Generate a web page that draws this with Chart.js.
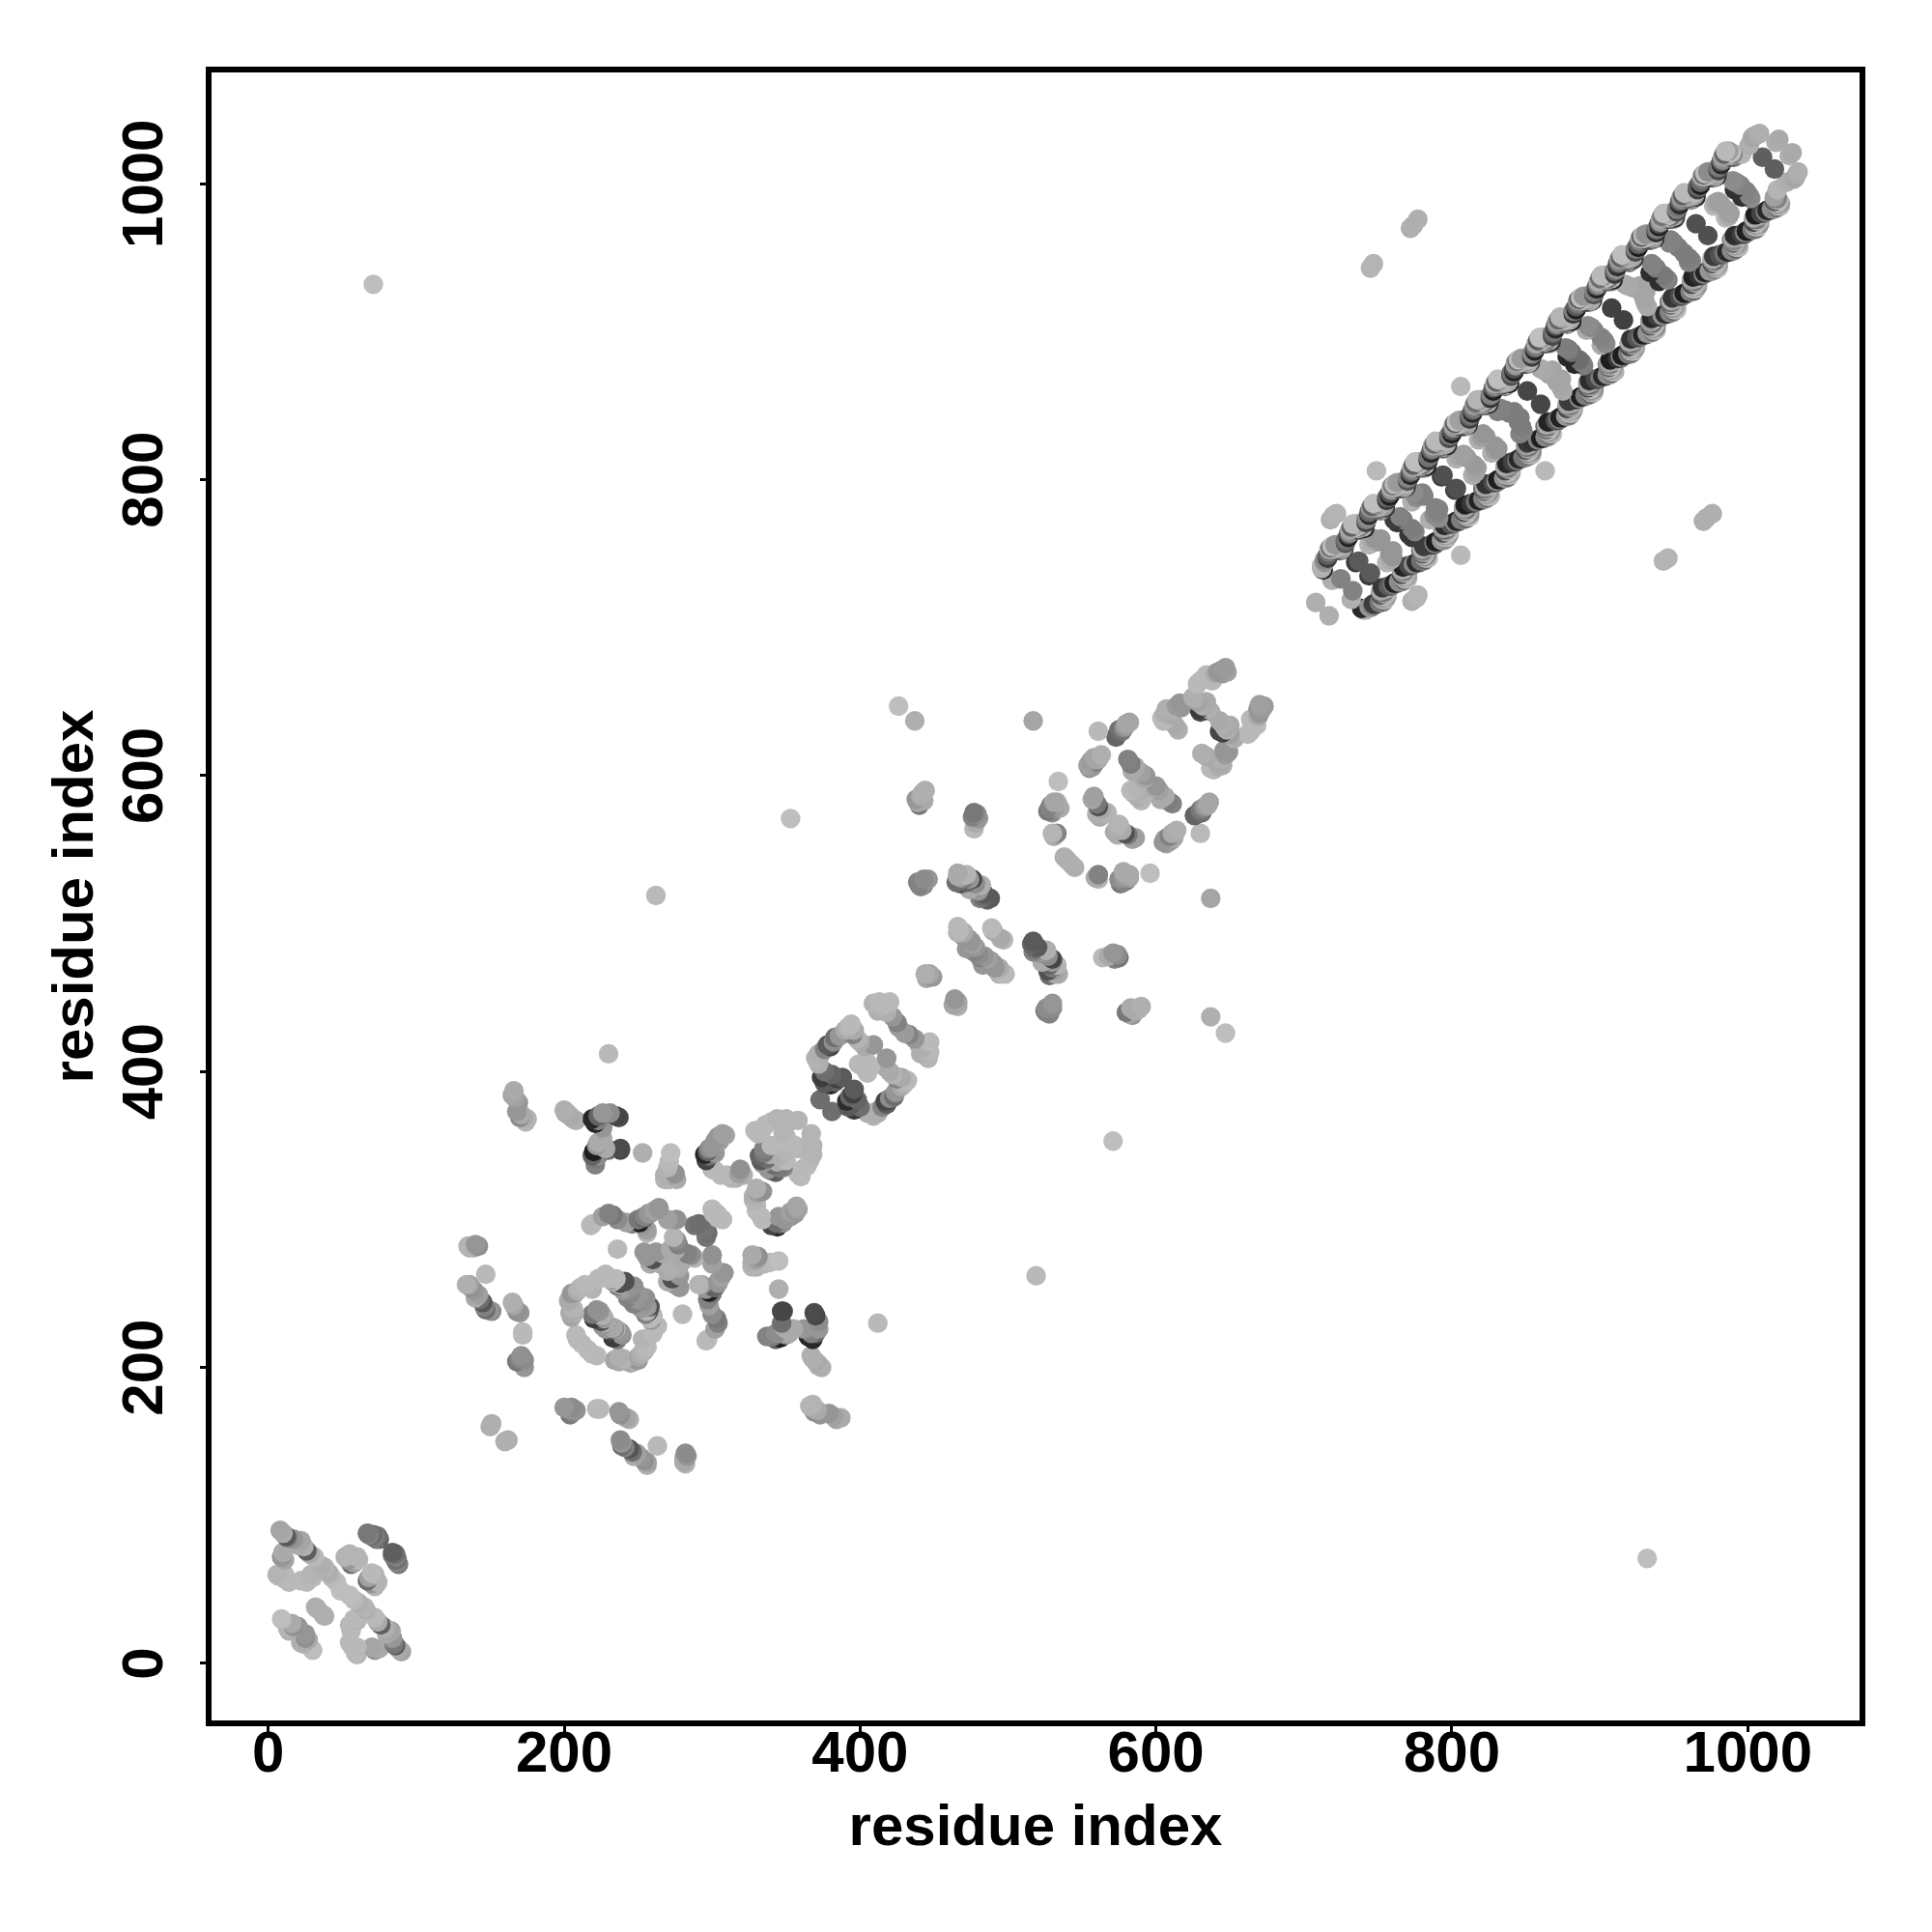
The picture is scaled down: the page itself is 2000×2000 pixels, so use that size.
<!DOCTYPE html>
<html>
<head>
<meta charset="utf-8">
<title>residue contact map</title>
<script src="https://cdn.jsdelivr.net/npm/chart.js@4/dist/chart.umd.js"></script>
<style>
  html, body { margin: 0; padding: 0; background: #fff; }
  canvas { display: block; }
</style>
</head>
<body>
<canvas id="contactChart" width="2000" height="2000"></canvas>
<script>
// Tick labels
const xTicks = [0, 200, 400, 600, 800, 1000];
const yTicks = [0, 200, 400, 600, 800, 1000];
const axisTitle = 'residue index';

// The map is symmetric, so each contact is listed once as (i, j) with i < j
// Two long rails of the big helix bundle
const railI = [
  712,714,716,717,719,721,723,724, 726,728,730,731,733,735,737,738,
  740,742,744,745,747,749,751,752, 754,756,758,759,761,763,765,766,
  768,770,772,773,775,777,779,780, 782,784,786,787,789,791,793,794,
  796,798,800,801,803,805,807,808, 810,812,814,815,817,819,821,822,
  824,826,828,829,831,833,835,836, 838,840,842,843,845,847,849,850,
  852,854,856,857,859,861,863,864, 866,868,870,871,873,875,877,878,
  880,882,884,885,887,889,891,892, 894,896,898,899,901,903,905,906,
  908,910,912,913,915,917,919,920, 922,924,926,927,929,931,933,934,
  936,938,940,941,943,945,947,948, 950,952,954,955,957,959,961,962,
  964,966,968,969,971,973,975,976, 978,980,982,983,985,987,989,990
];
const railJ = [
  740,744,747,751,753,754,754,752, 753,757,761,764,768,768,767,766,
  766,771,776,779,782,781,780,779, 782,786,789,793,795,796,796,794,
  795,799,803,806,810,810,809,808, 808,813,818,821,824,823,822,821,
  824,828,831,835,837,838,838,836, 837,841,845,848,852,852,851,850,
  850,855,860,863,866,865,864,863, 866,870,873,877,879,880,880,878,
  879,883,887,890,894,894,893,892, 892,897,902,905,908,907,906,905,
  908,912,915,919,921,922,922,920, 921,925,929,932,936,936,935,934,
  934,939,944,947,950,949,948,947, 950,954,957,961,963,964,964,962,
  963,967,971,974,978,978,977,976, 976,981,986,989,992,991,990,989,
  992,996,999,1003,1005,1006,1006,1004, 1005,1009,1013,1016,1020,1020,1019,1018
];
const railGrey = [
  175,150,60,120,175,185,165,110, 160,90,35,140,180,190,175,130,
  170,70,45,110,170,190,160,120, 150,60,30,150,185,180,170,105,
  165,85,40,125,175,190,180,135, 155,55,35,130,185,185,160,100,
  170,75,30,145,175,190,170,125, 160,65,40,120,180,185,165,115,
  150,50,30,135,175,190,175,110, 165,80,35,150,185,180,160,120,
  170,60,30,125,175,190,170,105, 155,70,40,140,180,185,175,130,
  160,55,30,120,185,190,165,110, 170,85,35,145,175,180,160,125,
  150,60,45,130,180,190,170,100, 165,75,30,125,185,185,175,120,
  160,50,35,150,175,190,165,115, 170,80,40,135,180,180,160,130,
  155,65,30,120,185,190,170,110, 165,70,40,140,175,185,175,125
];
// Second partner of the same residues
const railUpperJ = [
  742,746,749,753,755,756,756,754, 755,759,763,766,770,770,769,768,
  768,773,778,781,784,783,782,781, 784,788,791,795,797,798,798,796,
  797,801,805,808,812,812,811,810, 810,815,820,823,826,825,824,823,
  826,830,833,837,839,840,840,838, 839,843,847,850,854,854,853,852,
  852,857,862,865,868,867,866,865, 868,872,875,879,881,882,882,880,
  881,885,889,892,896,896,895,894, 894,899,904,907,910,909,908,907,
  910,914,917,921,923,924,924,922, 923,927,931,934,938,938,937,936,
  936,941,946,949,952,951,950,949, 952,956,959,963,965,966,966,964,
  965,969,973,976,980,980,979,978, 978,983,988,991,994,993,992,991,
  994,998,1001,1005,1007,1008,1008,1006, 1007,1011,1015,1018,1022,1022,1021,1020
];
const railUpperGrey = [
  180,135,95,170,190,150,185,120, 175,110,80,165,185,160,180,130,
  185,125,100,150,190,140,175,115, 170,100,85,175,185,155,190,125,
  180,130,90,160,190,145,180,110, 175,115,95,170,185,150,170,135,
  185,120,85,165,190,160,185,120, 170,105,100,155,180,140,175,125,
  180,125,90,175,190,150,185,115, 175,110,80,160,185,155,180,130,
  185,135,95,170,190,145,170,120, 170,100,85,165,180,160,185,110,
  180,120,90,150,190,150,175,125, 175,130,100,175,185,140,190,115,
  185,105,80,160,190,155,180,130, 170,125,95,170,180,145,175,120,
  180,110,85,165,190,160,185,110, 175,135,90,155,185,150,170,125,
  185,100,100,175,190,140,180,120, 170,120,85,160,185,155,190,130
];
// Residues in between
const railMidI = [
  713,715,718,720,722,725, 727,729,732,734,736,739, 741,743,746,748,750,753,
  755,757,760,762,764,767, 769,771,774,776,778,781, 783,785,788,790,792,795,
  797,799,802,804,806,809, 811,813,816,818,820,823, 825,827,830,832,834,837,
  839,841,844,846,848,851, 853,855,858,860,862,865, 867,869,872,874,876,879,
  881,883,886,888,890,893, 895,897,900,902,904,907, 909,911,914,916,918,921,
  923,925,928,930,932,935, 937,939,942,944,946,949, 951,953,956,958,960,963,
  965,967,970,972,974,977, 979,981,984,986,988,991
];
const railMidJ = [
  739,746,754,753,752,752, 753,760,768,767,766,766, 767,774,782,781,780,780,
  781,788,796,795,794,794, 795,802,810,809,808,808, 809,816,824,823,822,822,
  823,830,838,837,836,836, 837,844,852,851,850,850, 851,858,866,865,864,864,
  865,872,880,879,878,878, 879,886,894,893,892,892, 893,900,908,907,906,906,
  907,914,922,921,920,920, 921,928,936,935,934,934, 935,942,950,949,948,948,
  949,956,964,963,962,962, 963,970,978,977,976,976, 977,984,992,991,990,990,
  991,998,1006,1005,1004,1004, 1005,1012,1020,1019,1018,1018
];
const railMidGrey = [
  40,130,110,150,85,170, 55,120,95,160,70,165, 35,140,100,145,90,175,
  60,125,115,155,75,160, 45,135,90,165,80,170, 30,115,105,150,95,165,
  50,145,95,160,70,175, 40,120,110,140,85,160, 55,130,100,155,90,170,
  35,125,115,165,75,165, 60,140,90,145,80,175, 45,115,105,150,95,160,
  30,135,95,160,70,170, 50,120,110,155,85,165, 40,145,100,140,90,175,
  55,125,90,165,75,160, 35,130,115,150,80,170, 60,115,95,160,95,165,
  45,140,105,145,70,175, 30,125,100,155,85,160
];

// Inner rungs, the end cap and the stray contacts around the bundle
const rungI = [
  708,719,725,718,720,722,735,737,744,745,
  747,748,749,752,763,765,772,773,774,774,
  777,778,781,793,794,803,806,808,818,821,
  831,836,842,851,860,864,868,878,879,891,
  894,908,917,922,927,934,936,947,950,965,
  977,980,991,992,996,1001,1003,1004,1006,1008,
  1010,1019,1021,
  746,750,761,767,776,780,805,810,820,823,
  833,839,862,866,877,881,892,896,919,925,
  935,938,948,953,978,982,990,995
];
const rungJ = [
  717,732,733,773,776,777,744,745,756,943,
  946,760,806,760,771,775,970,785,972,791,
  976,790,789,802,803,814,863,817,827,831,
  846,847,846,860,875,873,874,883,888,901,
  903,916,932,930,931,940,945,960,960,973,
  985,988,996,1001,1020,1026,1031,1032,1033,1034,
  1018,1028,1030,
  759,758,773,773,788,791,816,815,829,829,
  848,845,874,871,889,886,904,901,931,929,
  946,943,962,957,987,986,1002,999
];
const rungGrey = [
  175,175,130,175,180,180,60,90,180,180,
  180,150,185,150,55,130,175,175,175,140,
  175,130,130,60,80,175,185,160,175,150,
  130,125,125,70,170,165,165,40,125,170,
  135,65,170,165,165,45,130,130,125,80,
  185,160,50,135,180,175,170,165,170,175,
  95,175,170,
  170,150,60,125,140,130,165,155,160,150,
  130,125,170,165,125,110,140,130,170,165,
  130,120,130,125,170,160,140,130
];

// Middle domains, residues 260 to 670
const midI = [
  262,353,370,373,373,374,380,380,381,383,
  385,394,395,398,399,409,411,412,413,416,
  420,425,426,426,437,439,439,440,441,442,
  444,444,446,449,465,466,466,466,468,470,
  472,472,474,475,476,477,477,477,480,481,
  482,483,488,489,517,527,529,530,531,533,
  533,534,538,554,557,559,557,560,561,561,
  563,567,574,577,578,580,581,583,585,586,
  593,605,607,609,615,616,627,628,629,631,
  634,635,644,646,648,
  372,372,376,378,382,386,390,392,396,400,
  403,376,378,383,388,376,401,404,409,415,
  418,414,422,438,441,443,440,443,443,447,
  445,466,468,470,472,474,478,480,484,486,
  467,470,473,476,478,480,490,476,478,479,
  528,530,532,535,531,531,540,555,556,558,
  561,558,560,563,565,562,573,575,579,582,
  583,584,590,592,587,590,604,606,608,611,
  613,614,617,625,628,630,632,634,637,642,
  645,647,640,638,630
];
const midJ = [
  519,571,409,381,411,396,417,391,398,423,
  395,432,425,422,405,418,445,441,447,442,
  447,433,430,647,637,582,528,580,525,588,
  466,590,530,464,528,534,498,494,527,491,
  533,483,523,488,530,575,564,481,571,517,
  526,518,517,497,637,576,580,561,578,561,
  582,596,545,607,606,609,584,574,630,579,
  614,575,628,630,632,635,611,590,588,606,
  600,637,645,641,631,649,652,662,645,648,
  668,645,671,672,670,
  412,405,415,418,420,424,428,430,428,420,
  417,392,394,393,396,400,404,407,446,445,
  440,444,437,584,586,583,526,530,526,466,
  463,532,531,530,528,530,527,522,520,516,
  496,494,490,486,484,479,495,572,568,574,
  578,575,580,578,582,559,543,605,610,612,
  611,586,581,577,574,572,626,631,633,636,
  608,603,602,598,592,590,639,642,643,644,
  634,647,646,653,650,643,647,650,643,670,
  669,673,669,664,664
];
const midGrey = [
  185,190,180,110,175,60,70,45,100,110,
  65,185,130,180,185,150,180,175,185,175,
  185,130,155,190,175,170,130,120,130,175,
  175,175,150,150,110,170,185,180,80,150,
  180,150,170,150,70,120,185,130,150,130,
  175,110,90,185,165,120,130,180,150,130,
  170,190,175,160,150,130,165,175,185,80,
  175,180,100,120,130,165,130,185,175,170,
  150,185,175,170,175,150,170,185,60,175,
  185,175,150,155,160,
  175,175,130,90,140,150,170,180,170,170,
  170,90,90,100,90,110,185,185,180,185,
  175,180,150,150,170,170,130,140,140,165,
  165,170,160,120,100,150,140,150,90,100,
  185,170,150,160,150,140,170,130,170,140,
  130,140,160,170,165,170,175,150,155,165,
  170,160,120,170,175,170,100,110,150,165,
  125,170,160,170,180,175,185,175,170,175,
  170,155,150,175,160,70,170,170,170,150,
  150,155,170,185,185
];

// Knot of contacts, residues 130 to 370
const knotI = [
  134,135,137,139,140,142,145,147,147,151,
  151,165,166,168,168,169,170,171,171,172,
  173,175,200,204,205,205,206,208,209,209,
  219,219,219,219,220,220,221,221,222,223,
  223,225,226,226,226,228,230,230,230,231,
  233,235,235,236,238,238,241,242,242,243,
  247,251,253,254,254,256,260,264,267,268,
  271,271,272,274,275,276,277,291,295,297,
  300,300,300,304,306,309,316,319,329,333,
  334,335,337,348,350,350,358,
  136,140,136,139,143,146,149,142,166,170,
  172,170,172,173,150,165,167,168,172,174,
  202,206,201,203,204,207,204,207,211,214,
  223,232,236,240,245,250,254,256,258,260,
  208,212,224,227,230,234,219,218,226,236,
  246,250,253,257,261,270,256,258,262,265,
  268,272,276,279,288,293,301,303,268,270,
  273,276,296,298,302,305,307,302,310,313,
  318,321,331,336,340,344,352,352,346,
  340,335,332,334,339,343,
  223,226,226,222,223,228,221,238,237,254,
  258,264,256,298,302,306,245,241,249,228,226
];
const knotJ = [
  256,282,254,281,247,282,244,263,239,238,
  162,244,387,238,204,379,369,371,208,224,
  200,368,374,370,250,234,240,367,252,219,
  297,368,253,343,346,233,365,337,239,370,
  352,231,235,372,350,263,304,347,412,372,
  303,370,260,280,347,257,258,298,253,247,
  255,298,345,301,278,291,273,307,277,327,
  327,339,345,288,331,300,283,297,344,346,
  349,307,334,356,330,357,328,334,360,340,
  361,345,341,358,368,356,367,
  281,283,256,252,246,241,239,249,242,237,
  222,206,203,205,160,384,382,373,369,366,
  372,368,372,245,247,237,237,250,254,256,
  260,259,255,252,250,246,241,238,233,230,
  222,216,238,233,228,226,236,296,302,300,
  297,300,296,304,306,300,275,270,278,270,
  272,280,286,275,296,295,304,304,330,335,
  330,327,340,343,345,353,358,333,330,328,
  331,330,358,364,366,368,366,352,350,
  350,348,343,338,344,345,
  367,362,355,350,343,348,341,348,369,302,
  304,308,293,348,353,356,254,256,250,230,228
];
const knotGrey = [
  175,180,145,170,170,140,85,185,110,140,
  175,175,170,145,120,150,140,170,145,185,
  150,180,175,170,150,165,180,175,175,185,
  185,40,180,100,30,60,40,130,145,100,
  170,80,175,150,170,185,130,110,185,140,
  120,70,185,185,70,70,80,160,150,130,
  145,30,175,100,150,180,80,150,170,180,
  175,185,190,180,145,145,130,110,40,100,
  150,185,185,150,185,165,175,145,185,90,
  185,120,110,180,180,185,180,
  170,150,160,150,110,130,150,160,165,150,
  185,135,150,140,175,165,160,150,170,180,
  175,175,170,170,170,175,170,165,180,185,
  185,150,130,150,135,150,160,180,185,185,
  185,185,150,170,120,140,120,185,160,140,
  130,120,150,150,160,160,150,170,150,170,
  175,170,140,170,115,115,185,185,175,180,
  160,170,70,110,150,160,160,185,185,180,
  160,175,185,185,185,180,180,185,180,
  185,130,100,150,170,175,
  130,150,170,150,140,170,120,75,75,130,
  150,150,160,140,150,150,145,150,150,170,150
];

// First domain, residues 0 to 90, and its one far contact
const tipI = [
  7,8,9,9,12,14,14,17,17,24,
  26,26,30,31,32,38,41,46,49,55,
  56,61,68,71,72,75,71,
  10,11,13,20,28,6,11,22,52,54,
  58,60,67,70,74,73,16,13,20,33,
  36,43,29,11,10,22
];
const tipJ = [
  59,90,72,30,86,55,22,84,25,79,
  76,55,58,72,38,65,61,55,49,74,
  67,70,87,87,86,84,932,
  88,70,85,80,74,60,57,56,72,70,
  68,72,88,86,86,84,27,24,25,37,
  66,58,60,60,75,83
];
const tipGrey = [
  185,165,150,190,90,185,175,150,145,175,
  95,185,185,185,175,180,175,190,190,180,
  110,185,130,110,130,95,190,
  170,165,120,170,170,180,185,185,180,150,
  160,180,120,110,110,120,170,180,150,175,
  175,185,180,185,170,165
];

const labelFont = { family: '"Liberation Sans", Arial, sans-serif', size: 60, weight: 'bold' };

// Every list of contacts, both partners of the rails share the residues in railI
const contactI = [...railI, ...railI, ...railMidI, ...rungI, ...midI, ...knotI, ...tipI];
const contactJ = [...railJ, ...railUpperJ, ...railMidJ, ...rungJ, ...midJ, ...knotJ, ...tipJ];
const contactGrey = [...railGrey, ...railUpperGrey, ...railMidGrey, ...rungGrey, ...midGrey, ...knotGrey, ...tipGrey];

// Each contact goes on the map twice, once on each side of the diagonal.
// Lower rows are painted first so higher ones cover them.
const contactPoints = [];
contactI.forEach((v, k) => {
    contactPoints.push({ x: v, y: contactJ[k], grey: contactGrey[k] });
    contactPoints.push({ x: contactJ[k], y: v, grey: contactGrey[k] });
});
contactPoints.sort((a, b) => a.y - b.y || b.x - a.x);

// Box round the plot, square corners
const frame = {
    id: 'frame',
    afterDraw(chart) {
        const { left, top, width, height } = chart.chartArea;
        const c = chart.ctx;
        c.save();
        c.strokeStyle = '#000';
        c.lineWidth = 6;
        c.lineJoin = 'miter';
        c.strokeRect(left, top, width, height);
        c.restore();
    }
};

new Chart(document.getElementById('contactChart').getContext('2d'), {
    type: 'scatter',
    data: {
        datasets: [{
            data: contactPoints,
            backgroundColor: contactPoints.map(p => `rgb(${p.grey},${p.grey},${p.grey})`),
            pointRadius: 10.2,
            pointBorderWidth: 0
        }]
    },
    options: {
        responsive: false,
        animation: false,
        layout: { padding: { top: 72, right: 72 } },
        plugins: { legend: { display: false }, tooltip: { enabled: false } },
        scales: {
            x: {
                type: 'linear',
                min: -40.3,
                max: 1077.5,
                afterBuildTicks(scale) { scale.ticks = xTicks.map(v => ({ value: v })); },
                afterFit(scale) { scale.height = 216; },
                border: { display: false },
                grid: { drawOnChartArea: false, drawTicks: true, tickLength: 9, tickWidth: 3, tickColor: '#000' },
                ticks: { color: '#000', font: labelFont, padding: -12, maxRotation: 0, autoSkip: false, callback: v => String(v) },
                title: { display: true, text: axisTitle, color: '#000', font: labelFont, padding: { top: 0, bottom: 71 } }
            },
            y: {
                type: 'linear',
                min: -40.5,
                max: 1077.2,
                afterBuildTicks(scale) { scale.ticks = yTicks.map(v => ({ value: v })); },
                afterFit(scale) {
                    scale.width = 216;
                    // labels run up the page, centred on their tick
                    scale._getYAxisLabelAlignment = () => ({ textAlign: 'center', x: 151 });
                },
                border: { display: false },
                grid: { drawOnChartArea: false, drawTicks: true, tickLength: 9, tickWidth: 3, tickColor: '#000' },
                ticks: { color: '#000', font: labelFont, minRotation: 90, maxRotation: 90, autoSkip: false, callback: v => String(v) },
                title: { display: true, text: axisTitle, color: '#000', font: labelFont, padding: { top: 43, bottom: 0 } }
            }
        }
    },
    plugins: [frame]
});
</script>
</body>
</html>
